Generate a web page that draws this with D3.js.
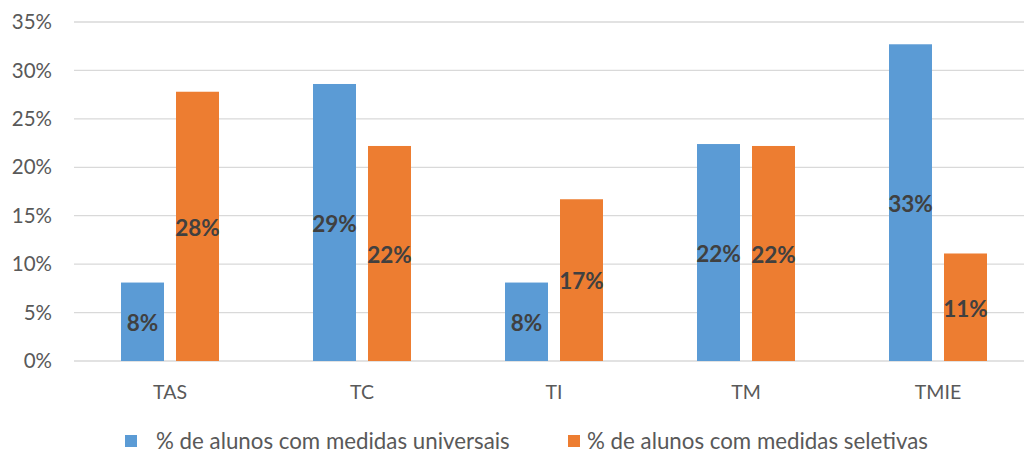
<!DOCTYPE html>
<html>
<head>
<meta charset="utf-8">
<script src="https://cdn.jsdelivr.net/npm/d3@7"></script>
<style>
  body { margin: 0; background: #fff; }
  svg { display: block; font-family: Lato, "Open Sans", sans-serif; }
</style>
</head>
<body>
<script>
const categories = ["TAS", "TC", "TI", "TM", "TMIE"];
const universais = [8.1, 28.6, 8.1, 22.4, 32.7];
const seletivas = [27.8, 22.2, 16.7, 22.2, 11.1];
const yTicks = [0, 5, 10, 15, 20, 25, 30, 35];
const seriesNames = ["% de alunos com medidas universais", "% de alunos com medidas seletivas"];
const colors = ["#5B9BD5", "#ED7D31"];

const w = 1024, h = 456;
const plotTop = 22, plotBottom = 361;

const svg = d3.select("body").append("svg").attr("width", w).attr("height", h);

const x = d3.scaleBand().domain(categories).range([74, 1034]);
const y = d3.scaleLinear().domain([0, 35]).range([plotBottom, plotTop]);

// gridlines
svg.append("g")
  .selectAll("line")
  .data(yTicks)
  .join("line")
  .attr("x1", 74)
  .attr("x2", w)
  .attr("y1", (d) => y(d))
  .attr("y2", (d) => y(d))
  .attr("stroke", "#D9D9D9")
  .attr("stroke-width", 1.3);

// y labels
svg.append("g")
  .selectAll("text")
  .data(yTicks)
  .join("text")
  .attr("x", 52)
  .attr("y", (d) => y(d))
  .attr("dy", "0.35em")
  .attr("text-anchor", "end")
  .attr("font-size", 20.5)
  .attr("fill", "#595959")
  .text((d) => d + "%");

const barW = 43, gap = 12;
const data = [];
categories.forEach((c, i) => {
  data.push({ cat: c, s: 0, v: universais[i] });
  data.push({ cat: c, s: 1, v: seletivas[i] });
});
const barX = (d) => x(d.cat) + x.bandwidth() / 2 - (barW * 2 + gap) / 2 + d.s * (barW + gap);

svg.append("g")
  .selectAll("rect")
  .data(data)
  .join("rect")
  .attr("x", barX)
  .attr("y", (d) => y(d.v))
  .attr("width", barW)
  .attr("height", (d) => y(0) - y(d.v))
  .attr("fill", (d) => colors[d.s]);

svg.append("g")
  .selectAll("text")
  .data(data)
  .join("text")
  .attr("x", (d) => barX(d) + barW / 2)
  .attr("y", (d) => (y(d.v) + y(0)) / 2 + 1.5)
  .attr("dy", "0.35em")
  .attr("text-anchor", "middle")
  .attr("font-size", 22.5)
  .attr("font-weight", "bold")
  .attr("fill", "#404040")
  .text((d) => Math.round(d.v) + "%");

// category labels
svg.append("g")
  .selectAll("text")
  .data(categories)
  .join("text")
  .attr("x", (d) => x(d) + x.bandwidth() / 2)
  .attr("y", 392)
  .attr("dy", "0.35em")
  .attr("text-anchor", "middle")
  .attr("font-size", 19.5)
  .attr("fill", "#595959")
  .text((d) => d);

// legend
const legendX = [125, 568];
const lg = svg.append("g")
  .selectAll("g")
  .data(seriesNames)
  .join("g")
  .attr("transform", (d, i) => `translate(${legendX[i]},441)`);
lg.append("rect")
  .attr("x", 0)
  .attr("y", -6)
  .attr("width", 12)
  .attr("height", 12)
  .attr("fill", (d, i) => colors[i]);
lg.append("text")
  .attr("x", (d, i) => (i === 0 ? 31 : 19))
  .attr("y", 0)
  .attr("dy", "0.35em")
  .attr("font-size", 22.3)
  .attr("fill", "#595959")
  .text((d) => d);
</script>
</body>
</html>
